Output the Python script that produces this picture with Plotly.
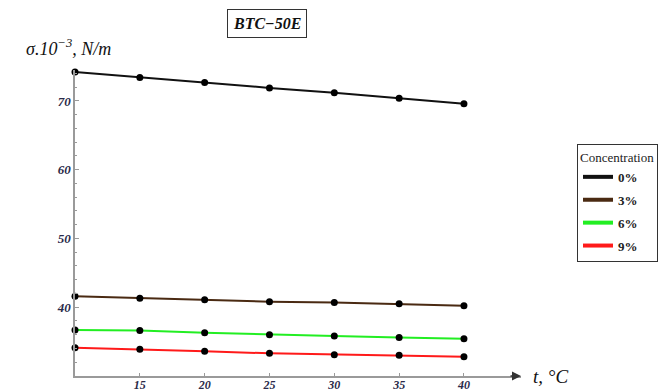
import plotly.graph_objects as go

temps = [10, 15, 20, 25, 30, 35, 40]
conc_names = ["0%", "3%", "6%", "9%"]
sigma_0 = [74.2, 73.4, 72.7, 71.9, 71.2, 70.4, 69.6]
sigma_3 = [41.6, 41.3, 41.1, 40.8, 40.7, 40.5, 40.2]
sigma_6 = [36.7, 36.6, 36.3, 36.0, 35.8, 35.6, 35.4]
sigma_9 = [34.1, 33.9, 33.6, 33.3, 33.1, 33.0, 32.8]
series = [sigma_0, sigma_3, sigma_6, sigma_9]
colors = ["#111111", "#4a2a12", "#22ee22", "#ff1a1a"]
x_ticks = [15, 20, 25, 30, 35, 40]
y_ticks = [40, 50, 60, 70]

serif = "Liberation Serif, Times New Roman, serif"
tick_color = "#2a2a4a"
axis_color = "#9a9a9a"

fig = go.Figure()
for name, vals, col in zip(conc_names, series, colors):
    fig.add_trace(go.Scatter(
        x=temps, y=vals, name=name, mode="lines+markers",
        line=dict(color=col, width=2),
        marker=dict(color="#000000", size=7),
        cliponaxis=False, showlegend=False,
    ))
# legend entries (line sample only)
for name, col in zip(conc_names, colors):
    fig.add_trace(go.Scatter(
        x=[None], y=[None], name=name, mode="lines",
        line=dict(color=col, width=4), legendgroup=name, showlegend=True,
    ))

fig.update_layout(
    width=659, height=392,
    margin=dict(l=75, r=138, t=70, b=16),
    paper_bgcolor="white", plot_bgcolor="white",
    showlegend=True,
    legend=dict(
        xref="container", yref="container",
        x=577 / 659, y=1 - 144 / 392, xanchor="left", yanchor="top",
        bordercolor="#333333", borderwidth=1, bgcolor="white",
        font=dict(family=serif, size=13, color="#222222", weight="bold"),
        title=dict(text="Concentration",
                   font=dict(family=serif, size=13, color="#222222", weight="normal")),
        itemwidth=30, tracegroupgap=3,
    ),
    xaxis=dict(
        range=[10, 44.4], showgrid=False, zeroline=False,
        showline=True, linecolor=axis_color, linewidth=1.5,
        tickvals=x_ticks, ticks="inside", ticklen=3, tickcolor=axis_color,
        ticklabelstandoff=-3,
        tickfont=dict(family=serif, size=12, color=tick_color, weight="bold", style="italic"),
        automargin=False,
    ),
    yaxis=dict(
        range=[30, 74.5], showgrid=False, zeroline=False,
        showline=True, linecolor=axis_color, linewidth=1.5,
        tickvals=y_ticks, ticks="inside", ticklen=4, tickcolor=axis_color,
        minor=dict(dtick=2, ticks="inside", ticklen=2, tickcolor=axis_color),
        tickfont=dict(family=serif, size=13, color=tick_color, weight="bold", style="italic"),
        automargin=False,
    ),
)

# axis extensions beyond origin (Mathematica style axes)
fig.add_shape(type="line", xref="x", yref="y", x0=5, x1=10, y0=30, y1=30,
              line=dict(color=axis_color, width=1.5))
fig.add_shape(type="line", xref="x", yref="y", x0=10, x1=10, y0=29.1, y1=30,
              line=dict(color=axis_color, width=1.5))

# arrow heads
fig.add_annotation(x=44.4, y=30, xref="x", yref="y", ax=-12, ay=0, text="",
                   showarrow=True, arrowhead=2, arrowsize=1.2, arrowwidth=1.5,
                   arrowcolor="#333333")
fig.add_annotation(x=10, y=74.6, xref="x", yref="y", ax=0, ay=10, text="",
                   showarrow=True, arrowhead=2, arrowsize=1.2, arrowwidth=1.5,
                   arrowcolor="#111111")

# axis titles
fig.add_annotation(x=(531 - 75) / 446, y=30, xref="paper", yref="y",
                   xanchor="left", yanchor="middle",
                   text="t, °C", showarrow=False,
                   font=dict(family=serif, size=19, color="#111111", style="italic"))
fig.add_annotation(x=(24 - 75) / 446, y=(376 - 47) / 306, xref="paper", yref="paper",
                   xanchor="left", yanchor="middle", showarrow=False,
                   text="σ.10<sup>−3</sup>, N/m",
                   font=dict(family=serif, size=18, color="#111111", style="italic"))

# title box
fig.add_annotation(x=(267 - 75) / 446, y=(376 - 23) / 306, xref="paper", yref="paper",
                   xanchor="center", yanchor="middle", showarrow=False,
                   text="<b><i>BTC−50E</i></b>",
                   bordercolor="#333333", borderwidth=1, borderpad=5, bgcolor="white",
                   font=dict(family=serif, size=16, color="#111111"))

fig.write_html("out.html")
